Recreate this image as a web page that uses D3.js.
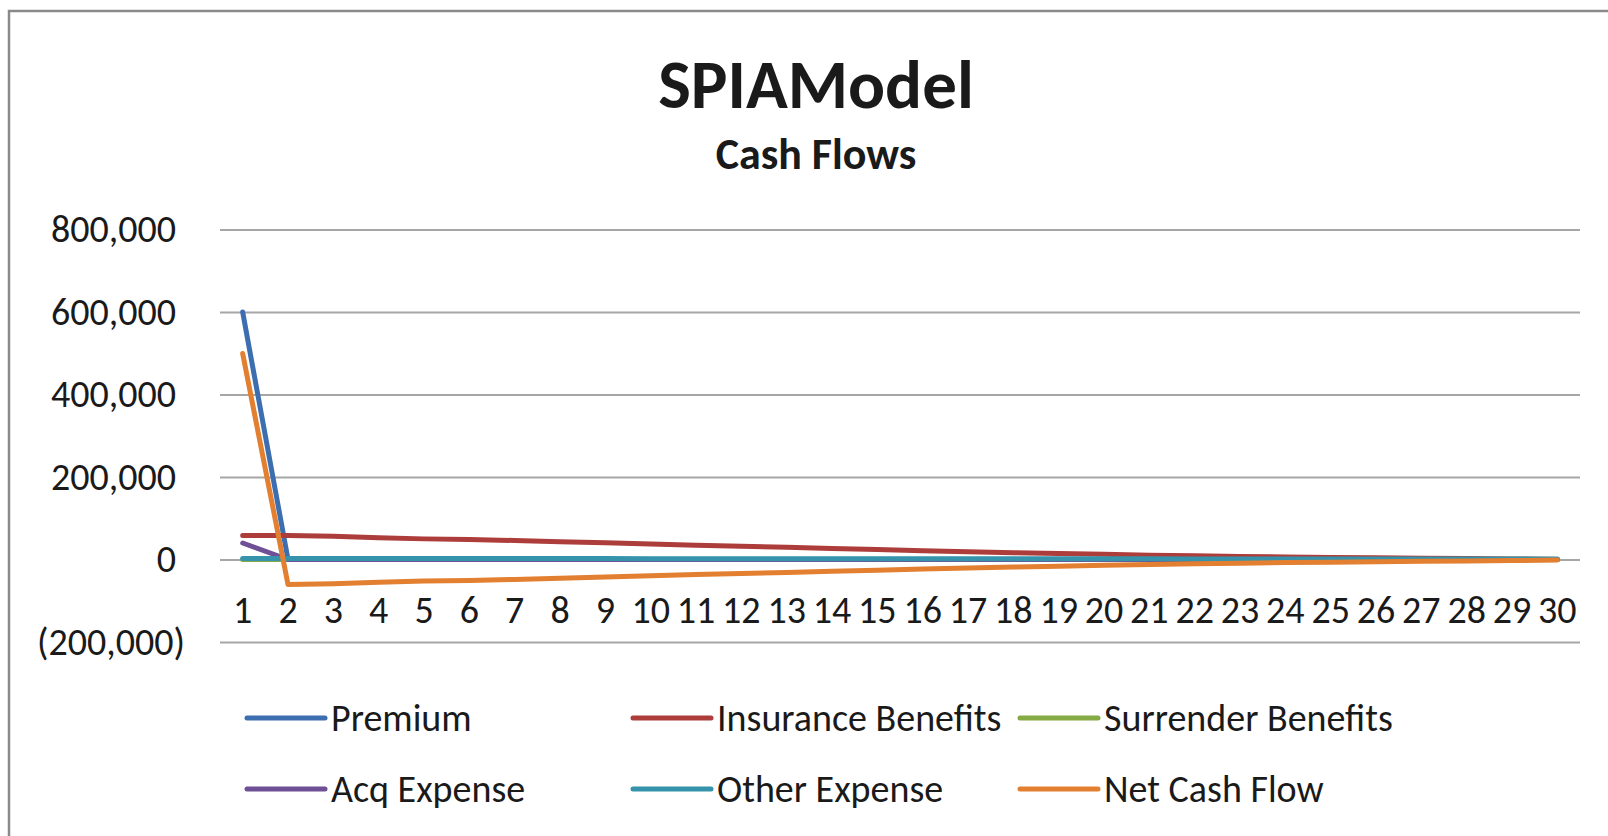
<!DOCTYPE html>
<html>
<head>
<meta charset="utf-8">
<script src="https://cdn.jsdelivr.net/npm/d3@7/dist/d3.min.js"></script>
<style>
  html, body { margin: 0; padding: 0; background: #fff; }
  svg { display: block; }
  text { font-family: Carlito, Lato, sans-serif; fill: #1a1a1a; }
</style>
</head>
<body>
<svg id="chart" width="1608" height="836"></svg>
<script>
const years = d3.range(1, 31);

const premium = [600000, 0, 0, 0, 0, 0, 0, 0, 0, 0, 0, 0, 0, 0, 0, 0, 0, 0, 0, 0, 0, 0, 0, 0, 0, 0, 0, 0, 0, 0];
const insuranceBenefits = [58000, 58000, 56500, 53000, 50000, 48500, 46000, 43000, 40500, 37500, 34500, 32000, 29500, 26500, 24000, 21500, 19000, 16500, 14500, 12500, 10500, 9000, 7500, 6000, 5000, 4000, 3200, 2500, 1500, 0];
const surrenderBenefits = [0, 0, 0, 0, 0, 0, 0, 0, 0, 0, 0, 0, 0, 0, 0, 0, 0, 0, 0, 0, 0, 0, 0, 0, 0, 0, 0, 0, 0, 0];
const acqExpense = [40000, 0, 0, 0, 0, 0, 0, 0, 0, 0, 0, 0, 0, 0, 0, 0, 0, 0, 0, 0, 0, 0, 0, 0, 0, 0, 0, 0, 0, 0];
const otherExpense = [2500, 2500, 2500, 2400, 2400, 2300, 2300, 2200, 2200, 2100, 2100, 2000, 2000, 1900, 1900, 1800, 1800, 1700, 1700, 1600, 1600, 1500, 1500, 1400, 1400, 1300, 1300, 1200, 1200, 1100];
const netCashFlow = [499500, -60500, -59000, -55400, -52400, -50800, -48300, -45200, -42700, -39600, -36600, -34000, -31500, -28400, -25900, -23300, -20800, -18200, -16200, -14100, -12100, -10500, -9000, -7400, -6400, -5300, -4500, -3700, -2700, -1100];

const yTicks = [-200000, 0, 200000, 400000, 600000, 800000];

const series = [
  { name: 'Premium', values: premium, color: '#3d6fb0' },
  { name: 'Insurance Benefits', values: insuranceBenefits, color: '#ac3d3b' },
  { name: 'Surrender Benefits', values: surrenderBenefits, color: '#85ab44' },
  { name: 'Acq Expense', values: acqExpense, color: '#6f4f96' },
  { name: 'Other Expense', values: otherExpense, color: '#3594ab' },
  { name: 'Net Cash Flow', values: netCashFlow, color: '#e27f30' }
];

const svg = d3.select('#chart');

// chart area border
svg.append('rect')
  .attr('x', 9).attr('y', 11)
  .attr('width', 1640).attr('height', 860)
  .attr('fill', '#fff')
  .attr('stroke', '#8a8a8a')
  .attr('stroke-width', 2.5);

const plot = { left: 220, right: 1580, top: 229.5, bottom: 642 };
const labelSize = 38;

const x = d3.scaleBand()
  .domain(years)
  .range([plot.left, plot.right])
  .padding(0);

const y = d3.scaleLinear()
  .domain([-200000, 800000])
  .range([plot.bottom, plot.top]);

const fmt = d3.format(',');
const yFormat = d => d < 0 ? '(' + fmt(-d) + ')' : fmt(d);

// gridlines + y labels
const yAxis = svg.append('g')
  .attr('transform', `translate(${plot.left},0)`)
  .call(d3.axisLeft(y)
    .tickValues(yTicks)
    .tickSize(-(plot.right - plot.left))
    .tickPadding(44)
    .tickFormat(yFormat));

yAxis.select('.domain').remove();
yAxis.selectAll('.tick line')
  .attr('stroke', '#a6a6a6')
  .attr('stroke-width', 2);
yAxis.selectAll('.tick text')
  .attr('font-size', labelSize)
  .attr('fill', '#1a1a1a')
  .attr('dx', d => d < 0 ? 9 : 0);

// category labels under the zero line
const xAxis = svg.append('g')
  .attr('transform', `translate(0,${y(0)})`)
  .call(d3.axisBottom(x).tickSize(0).tickPadding(37));

xAxis.select('.domain').remove();
xAxis.selectAll('.tick text')
  .attr('font-size', labelSize)
  .attr('fill', '#1a1a1a');

// lines
const line = d3.line()
  .x((d, i) => x(years[i]) + x.bandwidth() / 2)
  .y(d => y(d));

svg.append('g')
  .selectAll('path')
  .data(series)
  .join('path')
  .attr('d', d => line(d.values))
  .attr('fill', 'none')
  .attr('stroke', d => d.color)
  .attr('stroke-width', 5)
  .attr('stroke-linejoin', 'round')
  .attr('stroke-linecap', 'round');

// titles
svg.append('text')
  .attr('x', 816).attr('y', 108)
  .attr('text-anchor', 'middle')
  .attr('font-size', 69)
  .attr('font-weight', 'bold')
  .text('SPIAModel');

svg.append('text')
  .attr('x', 816).attr('y', 169)
  .attr('text-anchor', 'middle')
  .attr('font-size', 44)
  .attr('font-weight', 'bold')
  .text('Cash Flows');

// legend
const legendCols = [247, 633, 1020];
const legendRows = [718, 789];

const legend = svg.append('g')
  .selectAll('g')
  .data(series)
  .join('g')
  .attr('transform', (d, i) => `translate(${legendCols[i % 3]},${legendRows[Math.floor(i / 3)]})`);

legend.append('line')
  .attr('x1', 0).attr('x2', 78)
  .attr('y1', 0).attr('y2', 0)
  .attr('stroke', d => d.color)
  .attr('stroke-width', 5)
  .attr('stroke-linecap', 'round');

legend.append('text')
  .attr('x', 84)
  .attr('dy', '0.35em')
  .attr('font-size', labelSize)
  .text(d => d.name);
</script>
</body>
</html>
